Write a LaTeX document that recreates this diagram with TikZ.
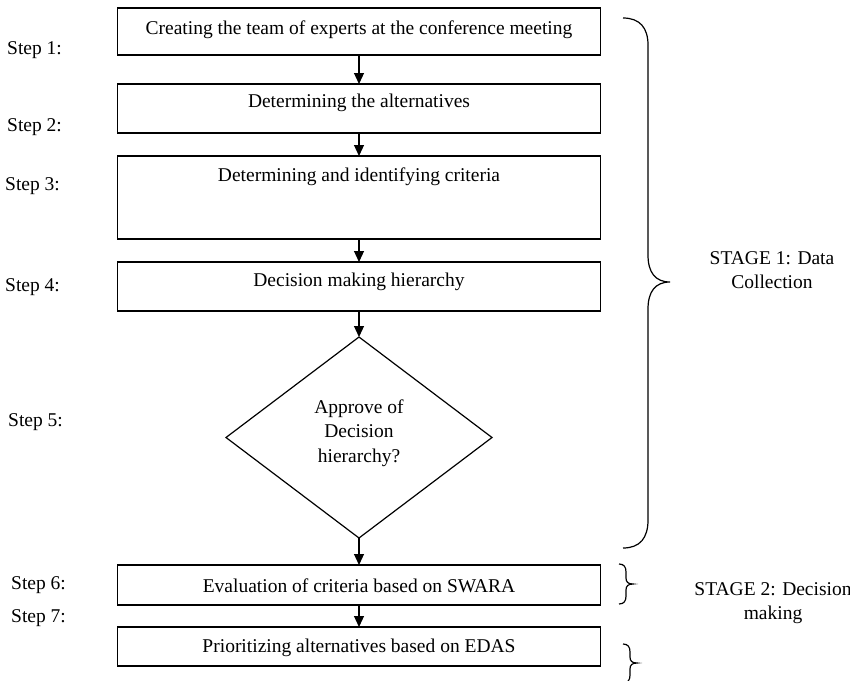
\documentclass[tikz,border=0pt]{standalone}
\usepackage{fontspec}
\setmainfont{Liberation Serif}
\usetikzlibrary{arrows.meta,shapes.geometric}
\begin{document}
\begin{tikzpicture}[x=1pt,y=-1pt,
  stepbox/.style={draw,line width=1.2pt,minimum width=483pt,inner sep=0pt,outer sep=0pt},
  decbox/.style={draw,line width=1.2pt,diamond,minimum width=266pt,minimum height=201pt,inner sep=0pt,outer sep=0pt},
  txt/.style={inner sep=0pt,font=\fontsize{19.5}{24.5}\selectfont,align=center},
  lbl/.style={inner sep=0pt,anchor=west,font=\fontsize{19.5}{24.5}\selectfont},
  flow/.style={line width=1.2pt,-{Triangle[length=11pt,width=10pt]}},
  brace/.style={line width=1.2pt}
]
\useasboundingbox (0,0) rectangle (850,680);
% boxes
\node[stepbox,minimum height=47pt] (b1) at (359,31.5) {};
\node[stepbox,minimum height=49pt] (b2) at (359,108.5) {};
\node[stepbox,minimum height=83pt] (b3) at (359,197.5) {};
\node[stepbox,minimum height=49pt] (b4) at (359,286.5) {};
\node[decbox] (d5) at (359,437.5) {};
\node[stepbox,minimum height=40pt] (b6) at (359,585) {};
\node[stepbox,minimum height=39pt] (b7) at (359,646.5) {};
% texts
\node[txt] (t1) at ([yshift=-22pt]b1.north) {Creating the team of experts at the conference meeting};
\node[txt] (t2) at ([yshift=-19pt]b2.north) {Determining the alternatives};
\node[txt] (t3) at ([yshift=-21pt]b3.north) {Determining and identifying criteria};
\node[txt] (t4) at ([yshift=-20pt]b4.north) {Decision making hierarchy};
\node[txt] (t5) at (359,433) {Approve of\\Decision\\hierarchy?};
\node[txt] (t6) at ([yshift=-21pt]b6.north) {Evaluation of criteria based on SWARA};
\node[txt] (t7) at ([yshift=-21pt]b7.north) {Prioritizing alternatives based on EDAS};
% arrows
\draw[flow] (b1.south) -- (b2.north);
\draw[flow] (b2.south) -- (b3.north);
\draw[flow] (b3.south) -- (b4.north);
\draw[flow] (b4.south) -- (d5.north);
\draw[flow] (d5.south) -- (b6.north);
\draw[flow] (b6.south) -- (b7.north);
% step labels
\node[lbl] (s1) at (7,50) {Step 1:};
\node[lbl] (s2) at (7,127) {Step 2:};
\node[lbl] (s3) at (5,186) {Step 3:};
\node[lbl] (s4) at (5,287) {Step 4:};
\node[lbl] (s5) at (8,422) {Step 5:};
\node[lbl] (s6) at (11,585) {Step 6:};
\node[lbl] (s7) at (11,618) {Step 7:};
% braces
\draw[brace] (623,18) .. controls (640,18) and (648,28) .. (648,45)
  -- (648,255) .. controls (648,272) and (655,282) .. (670,282)
  .. controls (655,282) and (648,292) .. (648,309)
  -- (648,520) .. controls (648,538) and (640,548) .. (623,548);
\draw[brace] (619,564) .. controls (624,564) and (626,567) .. (626,572)
  -- (626,578) .. controls (626,582) and (628,584) .. (633,584)
  .. controls (628,584) and (626,586) .. (626,590)
  -- (626,596) .. controls (626,601) and (624,604) .. (619,604);
\draw[brace] (623,644) .. controls (628,644) and (630,647) .. (630,652)
  -- (630,657) .. controls (630,661) and (632,663) .. (637,663)
  .. controls (632,663) and (630,665) .. (630,669)
  -- (630,675) .. controls (630,680) and (628,683) .. (623,683);
% stage labels
\node[txt] (g1) at (772,270) {STAGE 1: Data\\Collection};
\node[txt] (g2) at (773,603) {STAGE 2: Decision\\making};
\end{tikzpicture}
\end{document}
